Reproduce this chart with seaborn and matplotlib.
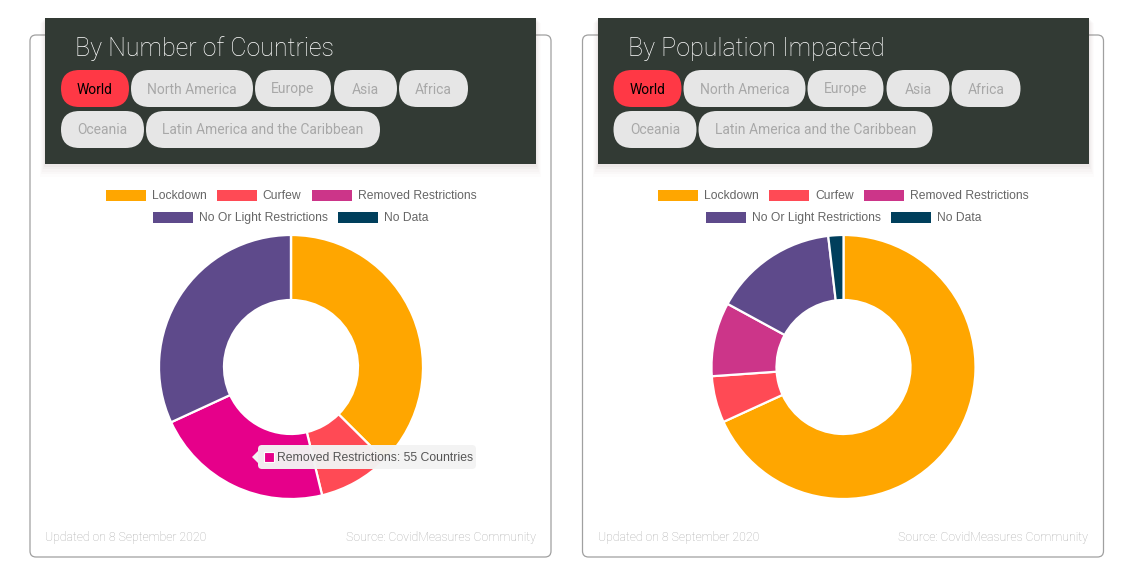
import matplotlib
matplotlib.use("Agg")
import matplotlib.pyplot as plt
from matplotlib.patches import FancyBboxPatch, Patch, Polygon, Rectangle
import seaborn as sns

# data
statuses = ["Lockdown", "Curfew", "Removed Restrictions", "No Or Light Restrictions", "No Data"]
status_colors = ["#ffa600", "#ff4a55", "#cc3589", "#5e4a8b", "#003f5c"]
countries = [94, 22, 55, 80, 0]
population_m = [5310, 445, 705, 1185, 144]
regions_row1 = ["World", "North America", "Europe", "Asia", "Africa"]
regions_row2 = ["Oceania", "Latin America and the Caribbean"]
panel_titles = ["By Number of Countries", "By Population Impacted"]
updated_text = "Updated on 8 September 2020"
source_text = "Source: CovidMeasures Community"
hover_label = "Removed Restrictions"
hover_color = "#e6008a"

W, H = 1133, 587
sns.set_theme(style="white")
plt.rcParams["font.family"] = ["Roboto", "DejaVu Sans"]

fig = plt.figure(figsize=(W / 100, H / 100), dpi=100)
fig.patch.set_facecolor("white")


def pixel_axes(zorder):
    a = fig.add_axes([0, 0, 1, 1], zorder=zorder)
    a.set_xlim(0, W)
    a.set_ylim(H, 0)
    a.axis("off")
    a.patch.set_alpha(0)
    return a


bg = pixel_axes(0)

# pill layout (x start, x end) per row
pills_row1 = [(61, 129), (131, 253), (255, 331), (334, 397), (399, 468)]
pills_row2 = [(61, 144), (146, 380)]


def draw_card(dx, title):
    # card outline
    bg.add_patch(FancyBboxPatch((30 + dx, 35), 521, 522,
                                boxstyle="round,pad=0,rounding_size=6",
                                fc="white", ec="#a0a0a0", lw=0.9, zorder=1))
    # soft header shadow
    for i, a in enumerate([0.035, 0.028, 0.02, 0.014, 0.01]):
        s = i + 1
        bg.add_patch(Rectangle((45 + dx - s, 18 + s), 491 + 2 * s, 146 + 1.5 * s,
                               fc="#6a3a3a", ec="none", alpha=a, zorder=2))
    bg.add_patch(Rectangle((45 + dx, 18), 491, 146, fc="#323a34", ec="none", zorder=3))
    bg.text(75 + dx, 49, title, color="white", fontsize=18, fontweight="light",
            va="center", ha="left", zorder=4)
    for row, (labels, spans) in enumerate([(regions_row1, pills_row1), (regions_row2, pills_row2)]):
        y0 = 70 + row * 41
        for lab, (x0, x1) in zip(labels, spans):
            active = lab == "World"
            bg.add_patch(FancyBboxPatch((x0 + dx, y0), x1 - x0, 37,
                                        boxstyle="round,pad=0,rounding_size=18.5",
                                        fc="#ff3845" if active else "#e6e6e6", ec="none", zorder=4))
            bg.text((x0 + x1) / 2 + dx, y0 + 23.5, lab, fontsize=10,
                    color="black" if active else "#a8a8a8", ha="center", va="baseline", zorder=5)
    # footer
    bg.text(45 + dx, 537.5, updated_text, fontsize=8.8, fontweight="light",
            color="#aaaaaa", ha="left", va="center", zorder=4)
    bg.text(536 + dx, 537.5, source_text, fontsize=8.8, fontweight="light",
            color="#aaaaaa", ha="right", va="center", zorder=4)


def draw_donut(cx, cy, r, r_in, values, colors):
    ax = fig.add_axes([(cx - r) / W, 1 - (cy + r) / H, 2 * r / W, 2 * r / H], zorder=2)
    ax.pie(values, colors=colors, startangle=90, counterclock=False, radius=1,
           wedgeprops=dict(width=(r - r_in) / r, edgecolor="white", linewidth=1.6))
    ax.set_xlim(-1, 1)
    ax.set_ylim(-1, 1)
    ax.axis("off")
    return ax


def draw_legend(cx):
    handles = [Patch(fc=c, ec="none") for c in status_colors]
    rows = [(0, 3, 196), (3, 5, 218)]
    for a, b, y in rows:
        fig.legend(handles[a:b], statuses[a:b], loc="center",
                   bbox_to_anchor=(cx / W, 1 - y / H), ncol=b - a, frameon=False,
                   prop=dict(family="Liberation Sans", size=8.7), labelcolor="#666666",
                   handlelength=40 / 12.1, handleheight=1.0, handletextpad=0.5,
                   columnspacing=0.85, borderpad=0, borderaxespad=0)


offset = 552.5
draw_card(0, panel_titles[0])
draw_card(offset, panel_titles[1])

left_colors = [hover_color if s == hover_label else c for s, c in zip(statuses, status_colors)]
draw_donut(291, 367, 132, 67, countries, left_colors)
draw_donut(291 + offset, 367, 132, 67, population_m, status_colors)
draw_legend(291)
draw_legend(291 + offset)

# tooltip on the hovered slice
top = pixel_axes(10)
idx = statuses.index(hover_label)
top.add_patch(FancyBboxPatch((258, 445), 218, 24, boxstyle="round,pad=0,rounding_size=4",
                             fc="#f3f3f3", ec="none", alpha=0.97, zorder=1))
top.add_patch(Polygon([(258, 451), (252, 457), (258, 463)], closed=True,
                      fc="#f3f3f3", ec="none", zorder=1))
top.add_patch(Rectangle((264, 452), 10, 10, fc=hover_color, ec="white", lw=0.8, zorder=2))
top.text(277, 458, f"{hover_label}: {countries[idx]} Countries", fontsize=8.8,
         family="Liberation Sans", color="#555555", ha="left", va="center", zorder=3)

fig.savefig("out.png", dpi=100, facecolor="white")
